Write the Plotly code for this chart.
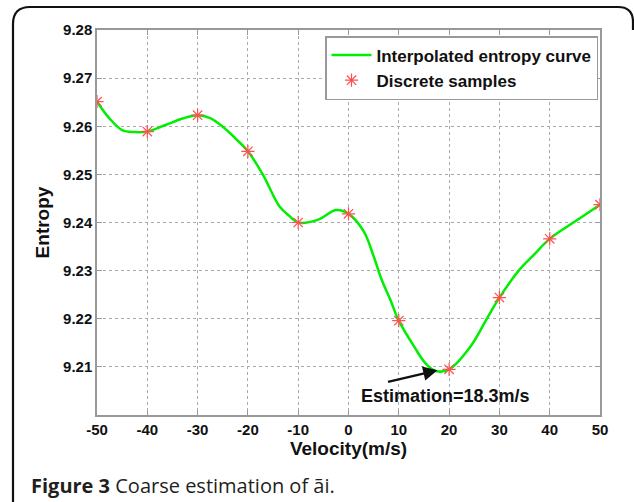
import plotly.graph_objects as go

# Interpolated entropy curve
curve_v = [-50, -47.5, -45, -42.5, -40, -36.5, -33, -30, -27.5, -25, -22.5, -20, -17, -13.7, -11.7,
           -10, -6, -2.5, 0, 3, 5, 6.6, 8.3, 10, 13, 15.5, 17.5, 20, 24.3, 27.6, 30, 34, 36.6,
           40, 45, 50]
curve_e = [9.2651, 9.2616, 9.2592, 9.2588, 9.2589, 9.2602, 9.2616, 9.2623, 9.2617, 9.2599, 9.2575,
           9.2548, 9.2499, 9.2433, 9.2413, 9.2400, 9.2406, 9.2426, 9.2418, 9.2382, 9.2330, 9.2281,
           9.2240, 9.2196, 9.2143, 9.2105, 9.2091, 9.2095, 9.2143, 9.2202, 9.2244, 9.2302, 9.2330,
           9.2366, 9.2402, 9.2437]

# Discrete samples
sample_v = [-50, -40, -30, -20, -10, 0, 10, 20, 30, 40, 50]
sample_e = [9.2651, 9.2589, 9.2623, 9.2548, 9.2400, 9.2418, 9.2196, 9.2095, 9.2244, 9.2366, 9.2437]

x_ticks = [-50, -40, -30, -20, -10, 0, 10, 20, 30, 40, 50]
x_tick_text = ["-50", "-40", "-30", "-20", "-10", "0", "10", "20", "30", "40", "50"]
y_ticks = [9.21, 9.22, 9.23, 9.24, 9.25, 9.26, 9.27, 9.28]
y_tick_text = ["9.21", "9.22", "9.23", "9.24", "9.25", "9.26", "9.27", "9.28"]

est_v = 17.7
est_e = 9.2093

W, H = 634, 502
L, R, T, B = 97, 34, 30, 87
pw, ph = W - L - R, H - T - B


def px(x):
    return (x - L) / pw


def py(y):
    return (H - B - y) / ph


font = "Liberation Sans, Arial, sans-serif"

fig = go.Figure()
fig.add_trace(go.Scatter(
    x=curve_v, y=curve_e, mode="lines", name="Interpolated entropy curve",
    line=dict(color="#00ee00", width=2.5, shape="spline", smoothing=1.0)))
fig.add_trace(go.Scatter(
    x=sample_v, y=sample_e, mode="markers", name="Discrete samples",
    marker=dict(symbol="asterisk-open", size=11, color="#ff5050",
                line=dict(color="#ff5050", width=1.2))))

axis_common = dict(
    showline=True, linecolor="#999999", linewidth=1.5, mirror="ticks",
    ticks="inside", ticklen=5, tickcolor="#999999",
    showgrid=True, gridcolor="#aaaaaa", gridwidth=1, griddash="dot",
    zeroline=False,
    tickfont=dict(family=font, size=15, color="#111111", weight="bold"),
)

fig.update_xaxes(range=[-50, 50], tickvals=x_ticks, ticktext=x_tick_text, **axis_common,
                 title=dict(text="Velocity(m/s)", standoff=2,
                            font=dict(family=font, size=19, color="#111111", weight="bold")))
fig.update_yaxes(range=[9.20, 9.28], tickvals=y_ticks, ticktext=y_tick_text, **axis_common,
                 title=dict(text="Entropy", standoff=8,
                            font=dict(family=font, size=19, color="#111111", weight="bold")))

# arrow annotation
fig.add_annotation(x=est_v, y=est_e, ax=-51, ay=12, axref="pixel", ayref="pixel",
                   showarrow=True, arrowhead=2, arrowsize=1.3, arrowwidth=2.2, arrowcolor="#111111",
                   text="")
fig.add_annotation(x=19.3, y=9.2040, text="Estimation=18.3m/s", showarrow=False,
                   font=dict(family=font, size=18, color="#111111", weight="bold"))

# caption
fig.add_annotation(xref="paper", yref="paper", x=px(29), y=py(485), xanchor="left", yanchor="middle",
                   text="<b>Figure 3</b> Coarse estimation of ãi.", showarrow=False,
                   font=dict(family="Open Sans, sans-serif", size=20, color="#231f20"))

# rounded border
path = (f"M {px(13)} {py(510)} L {px(13)} {py(24)} Q {px(13)} {py(7)} {px(30)} {py(7)} "
        f"L {px(618)} {py(7)} Q {px(633)} {py(7)} {px(633)} {py(22)} L {px(633)} {py(30)}")
fig.add_shape(type="path", xref="paper", yref="paper", path=path,
              line=dict(color="#111111", width=2.2), layer="above")

fig.update_layout(
    width=W, height=H,
    margin=dict(l=L, r=R, t=T, b=B),
    paper_bgcolor="white", plot_bgcolor="white",
    showlegend=True,
    legend=dict(x=px(325), y=py(36), xanchor="left", yanchor="top",
                bgcolor="white", bordercolor="#999999", borderwidth=1.5,
                font=dict(family=font, size=17, color="#111111", weight="bold"),
                tracegroupgap=0, itemwidth=40),
)

fig.write_html("out.html")
